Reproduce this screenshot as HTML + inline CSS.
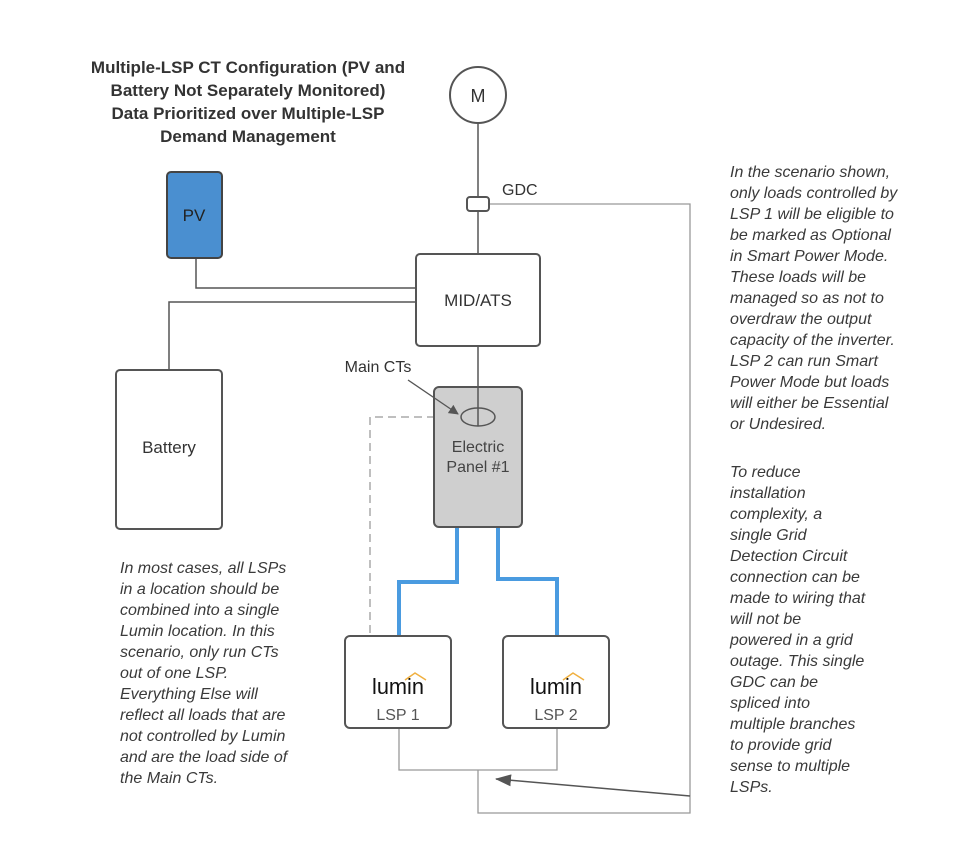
<!DOCTYPE html>
<html><head><meta charset="utf-8"><style>
html,body{margin:0;padding:0;background:#fff;}
svg{display:block;font-family:"Liberation Sans",sans-serif;}
.it{font-style:italic;font-size:16px;fill:#3a3a3a;}
</style></head><body>
<svg width="980" height="850" viewBox="0 0 980 850" xmlns="http://www.w3.org/2000/svg">
<defs>
<marker id="ar" markerWidth="10" markerHeight="10" refX="9" refY="5" orient="auto" markerUnits="userSpaceOnUse"><path d="M0,0 L10,5 L0,10 z" fill="#555"/></marker>
<marker id="ar2" markerWidth="16" markerHeight="12" refX="15" refY="6" orient="auto" markerUnits="userSpaceOnUse"><path d="M0,0 L16,6 L0,12 z" fill="#555"/></marker>
</defs>
<g font-weight="bold" font-size="17" fill="#333" text-anchor="middle">
<text x="248" y="73">Multiple-LSP CT Configuration (PV and</text>
<text x="248" y="96">Battery Not Separately Monitored)</text>
<text x="248" y="119">Data Prioritized over Multiple-LSP</text>
<text x="248" y="142">Demand Management</text>
</g>
<g fill="none" stroke="#555" stroke-width="1.5">
<line x1="478" y1="123" x2="478" y2="197"/>
<line x1="478" y1="211" x2="478" y2="254"/>
<line x1="478" y1="346" x2="478" y2="426"/>
<polyline points="196,258 196,288 416,288"/>
<polyline points="169,370 169,302 416,302"/>
</g>
<g fill="none" stroke="#999" stroke-width="1.3">
<polyline points="489,204 690,204 690,813 478,813 478,770"/>
<polyline points="399,728 399,770 557,770 557,728"/>
</g>
<line x1="690" y1="796" x2="496" y2="779" stroke="#555" stroke-width="1.5" marker-end="url(#ar2)"/>
<polyline points="461,417 370,417 370,636" fill="none" stroke="#aaa" stroke-width="1.5" stroke-dasharray="8,5"/>
<g fill="none" stroke="#4a9be0" stroke-width="4">
<polyline points="457,527 457,582 399,582 399,636"/>
<polyline points="498,527 498,579 557,579 557,636"/>
</g>
<circle cx="478" cy="95" r="28" fill="#fff" stroke="#555" stroke-width="2"/>
<text x="478" y="102" font-size="18" text-anchor="middle" fill="#333">M</text>
<rect x="467" y="197" width="22" height="14" rx="3" fill="#fff" stroke="#555" stroke-width="2"/>
<text x="502" y="195" font-size="16" fill="#333">GDC</text>
<rect x="416" y="254" width="124" height="92" rx="4" fill="#fff" stroke="#555" stroke-width="2"/>
<text x="478" y="306" font-size="17" text-anchor="middle" fill="#333">MID/ATS</text>
<rect x="167" y="172" width="55" height="86" rx="4" fill="#4a8fd0" stroke="#444" stroke-width="2"/>
<text x="194" y="221" font-size="17" text-anchor="middle" fill="#222">PV</text>
<rect x="116" y="370" width="106" height="159" rx="4" fill="#fff" stroke="#555" stroke-width="2"/>
<text x="169" y="453" font-size="17" text-anchor="middle" fill="#333">Battery</text>
<rect x="434" y="387" width="88" height="140" rx="5" fill="#cfcfcf" stroke="#555" stroke-width="2"/>
<line x1="478" y1="387" x2="478" y2="426" stroke="#555" stroke-width="1.5"/>
<ellipse cx="478" cy="417" rx="17" ry="9" fill="none" stroke="#555" stroke-width="1.5"/>
<text x="478" y="452" font-size="16" text-anchor="middle" fill="#444">Electric</text>
<text x="478" y="472" font-size="16" text-anchor="middle" fill="#444">Panel #1</text>
<text x="378" y="372" font-size="16" text-anchor="middle" fill="#333">Main CTs</text>
<line x1="408" y1="380" x2="458" y2="414" stroke="#555" stroke-width="1.3" marker-end="url(#ar)"/>
<rect x="345" y="636" width="106" height="92" rx="5" fill="#fff" stroke="#555" stroke-width="2"/>
<rect x="503" y="636" width="106" height="92" rx="5" fill="#fff" stroke="#555" stroke-width="2"/>
<g font-size="22" fill="#111" text-anchor="middle">
<text x="398" y="694" textLength="52" lengthAdjust="spacingAndGlyphs">lumin</text>
<text x="556" y="694" textLength="52" lengthAdjust="spacingAndGlyphs">lumin</text>
</g>
<polyline points="405,680 415,673 426,680" fill="none" stroke="#f0b040" stroke-width="1.5"/>
<polyline points="563,680 573,673 584,680" fill="none" stroke="#f0b040" stroke-width="1.5"/>
<g font-size="16" fill="#555" text-anchor="middle">
<text x="398" y="720">LSP 1</text>
<text x="556" y="720">LSP 2</text>
</g>
<g class="it">
<text x="730" y="177">In the scenario shown,</text>
<text x="730" y="198">only loads controlled by</text>
<text x="730" y="219">LSP 1 will be eligible to</text>
<text x="730" y="240">be marked as Optional</text>
<text x="730" y="261">in Smart Power Mode.</text>
<text x="730" y="282">These loads will be</text>
<text x="730" y="303">managed so as not to</text>
<text x="730" y="324">overdraw the output</text>
<text x="730" y="345">capacity of the inverter.</text>
<text x="730" y="366">LSP 2 can run Smart</text>
<text x="730" y="387">Power Mode but loads</text>
<text x="730" y="408">will either be Essential</text>
<text x="730" y="429">or Undesired.</text>
<text x="730" y="477">To reduce</text>
<text x="730" y="498">installation</text>
<text x="730" y="519">complexity, a</text>
<text x="730" y="540">single Grid</text>
<text x="730" y="561">Detection Circuit</text>
<text x="730" y="582">connection can be</text>
<text x="730" y="603">made to wiring that</text>
<text x="730" y="624">will not be</text>
<text x="730" y="645">powered in a grid</text>
<text x="730" y="666">outage. This single</text>
<text x="730" y="687">GDC can be</text>
<text x="730" y="708">spliced into</text>
<text x="730" y="729">multiple branches</text>
<text x="730" y="750">to provide grid</text>
<text x="730" y="771">sense to multiple</text>
<text x="730" y="792">LSPs.</text>
<text x="120" y="573">In most cases, all LSPs</text>
<text x="120" y="594">in a location should be</text>
<text x="120" y="615">combined into a single</text>
<text x="120" y="636">Lumin location. In this</text>
<text x="120" y="657">scenario, only run CTs</text>
<text x="120" y="678">out of one LSP.</text>
<text x="120" y="699">Everything Else will</text>
<text x="120" y="720">reflect all loads that are</text>
<text x="120" y="741">not controlled by Lumin</text>
<text x="120" y="762">and are the load side of</text>
<text x="120" y="783">the Main CTs.</text>
</g>
</svg>
</body></html>
